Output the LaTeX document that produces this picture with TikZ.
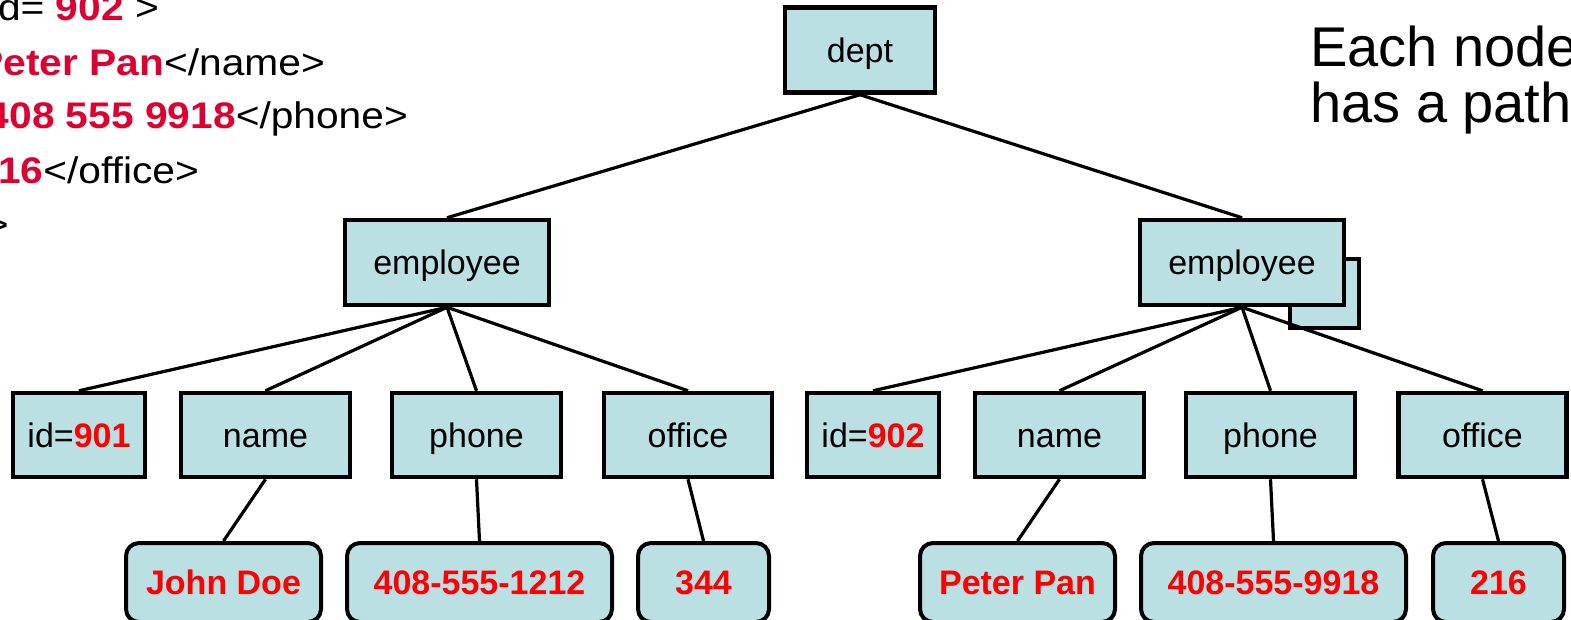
\documentclass[tikz,border=0pt]{standalone}
\usepackage{fontspec}
\setmainfont{Liberation Sans}
\definecolor{boxfill}{RGB}{186,224,228}
\definecolor{valred}{RGB}{255,0,0}
\definecolor{xmlred}{RGB}{221,0,49}
\pgfdeclarelayer{bg}
\pgfsetlayers{bg,main}
\tikzset{
  elem/.style={draw=black, line width=4.5pt, fill=boxfill, inner sep=0pt,
    minimum height=85pt, font=\fontsize{34}{40}\selectfont,
    text height=24pt, text depth=0pt},
  leaf/.style={draw=black, line width=4pt, fill=boxfill, rounded corners=13pt,
    inner sep=0pt, minimum height=79pt, font=\fontsize{34}{40}\selectfont\bfseries,
    text=valred, text height=24pt, text depth=0pt},
  conn/.style={line width=3.2pt},
  xml/.style={anchor=base east, inner sep=0pt, font=\fontsize{37}{44}\selectfont},
  big/.style={anchor=base west, inner sep=0pt, font=\fontsize{56}{64}\selectfont}
}
\newcommand{\xv}[1]{\textcolor{xmlred}{\bfseries #1}}
\newcommand{\vv}[1]{\textcolor{valred}{\bfseries #1}}
\newcommand{\xmlline}[1]{\scalebox{1.1}[1]{#1}}
\begin{document}
\begin{tikzpicture}[x=1pt,y=-1pt]
\useasboundingbox (0,0) rectangle (1571,619);
\clip (0,0) rectangle (1571,619);

% XML text (left, clipped)
\node[xml] (x1) at (159,20) {\xmlline{<employee id= \xv{902} >}};
\node[xml] (x2) at (325,75) {\xmlline{<name>\xv{Peter Pan}</name>}};
\node[xml] (x3) at (408,128) {\xmlline{<phone>\xv{408 555 9918}</phone>}};
\node[xml] (x4) at (199,183) {\xmlline{<office>\xv{216}</office>}};
\node[xml] (x5) at (9,237) {\xmlline{</employee>}};

% right text
\node[big] (t1) at (1310,66) {Each node};
\node[big] (t2) at (1310,122) {has a path};

% tree nodes
\node[elem, minimum width=150pt] (dept) at (860,50) {dept};
\node[elem, minimum width=204pt] (emp1) at (447,262.5) {employee};
\node[elem, minimum width=204pt] (emp2) at (1242,262.5) {employee};

\node[elem, minimum width=132pt, minimum height=84pt] (id1) at (79,435) {id=\vv{901}};
\node[elem, minimum width=169pt, minimum height=84pt] (name1) at (265.5,435) {name};
\node[elem, minimum width=169pt, minimum height=84pt] (phone1) at (476.5,435) {phone};
\node[elem, minimum width=168pt, minimum height=84pt] (office1) at (688,435) {office};

\node[elem, minimum width=132pt, minimum height=84pt] (id2) at (873,435) {id=\vv{902}};
\node[elem, minimum width=169pt, minimum height=84pt] (name2) at (1059.5,435) {name};
\node[elem, minimum width=169pt, minimum height=84pt] (phone2) at (1270.5,435) {phone};
\node[elem, minimum width=168pt, minimum height=84pt] (office2) at (1482.5,435) {office};

\node[leaf, minimum width=195pt] (v1) at (223.5,582.5) {John Doe};
\node[leaf, minimum width=265pt] (v2) at (479.5,582.5) {408-555-1212};
\node[leaf, minimum width=131pt] (v3) at (703.5,582.5) {344};
\node[leaf, minimum width=195pt] (v4) at (1017.5,582.5) {Peter Pan};
\node[leaf, minimum width=265pt] (v5) at (1273.5,582.5) {408-555-9918};
\node[leaf, minimum width=131pt] (v6) at (1498.5,582.5) {216};

\begin{pgfonlayer}{bg}
  \node[elem, minimum width=69pt, minimum height=69pt] (shadow) at (1324.5,293.5) {};
  \draw[conn] (dept.south) -- (emp1.north);
  \draw[conn] (dept.south) -- (emp2.north);
  \foreach \c in {id1,name1,phone1,office1} \draw[conn] (emp1.south) -- (\c.north);
  \foreach \c in {id2,name2,phone2,office2} \draw[conn] (emp2.south) -- (\c.north);
  \draw[conn] (name1.south) -- (v1.north);
  \draw[conn] (phone1.south) -- (v2.north);
  \draw[conn] (office1.south) -- (v3.north);
  \draw[conn] (name2.south) -- (v4.north);
  \draw[conn] (phone2.south) -- (v5.north);
  \draw[conn] (office2.south) -- (v6.north);
\end{pgfonlayer}
\end{tikzpicture}
\end{document}
